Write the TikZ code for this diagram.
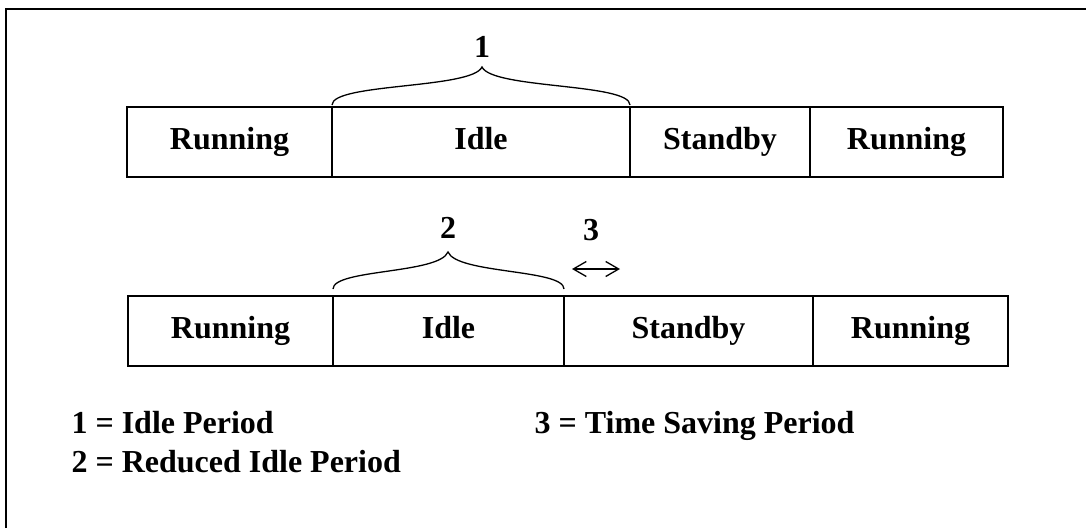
\documentclass[tikz,border=0pt]{standalone}
\usepackage{fontspec}
\setmainfont{Liberation Serif}
\usetikzlibrary{positioning,arrows.meta}
\tikzset{
  cell/.style={draw, line width=1.3pt, minimum height=70pt, inner sep=0pt, outer sep=0pt,
    text height=22pt, text depth=7pt},
  brace/.style={line width=1.3pt},
}
\begin{document}
\begin{tikzpicture}[x=1pt, y=-1pt, font=\fontsize{32}{38}\selectfont\bfseries]
  \useasboundingbox (0,0) rectangle (1086,528);
  \draw[line width=1.5pt] (6,528) -- (6,9) -- (1086,9);
  \node[cell, minimum width=205pt, anchor=north west] (a1) at (127,107) {Running};
  \node[cell, minimum width=298pt, right=0pt of a1] (a2) {Idle};
  \node[cell, minimum width=180pt, right=0pt of a2] (a3) {Standby};
  \node[cell, minimum width=193pt, right=0pt of a3] (a4) {Running};
  \node[cell, minimum width=205pt, anchor=north west] (b1) at (128,296) {Running};
  \node[cell, minimum width=231pt, right=0pt of b1] (b2) {Idle};
  \node[cell, minimum width=249pt, right=0pt of b2] (b3) {Standby};
  \node[cell, minimum width=195pt, right=0pt of b3] (b4) {Running};
  \coordinate (t1) at (482,67);
  \coordinate (t2) at (448,252);
  \coordinate (s1) at (572,269);
  \coordinate (s2) at (620,269);
  \node (n1) at (482,47) {1};
  \node (n2) at (448,228) {2};
  \node (n3) at (591,230) {3};
  \begin{scope}[brace]
    \draw ([yshift=2pt]a2.north west) .. controls +(0,-22) and +(-10,22) .. (t1)
      .. controls +(10,22) and +(0,-22) .. ([yshift=2pt]a2.north east);
    \draw ([yshift=7pt]b2.north west) .. controls +(0,-20) and +(-9,22) .. (t2)
      .. controls +(9,22) and +(0,-20) .. ([yshift=7pt]b2.north east);
    \draw[{Straight Barb[length=13pt,width=15pt]}-{Straight Barb[length=13pt,width=15pt]}] (s1) -- (s2);
  \end{scope}
  \node[anchor=base west] (l1) at (68,433) {1 = Idle Period};
  \node[anchor=base west] (l2) at (68,472) {2 = Reduced Idle Period};
  \node[anchor=base east] (l3) at (858,433) {3 = Time Saving Period};
\end{tikzpicture}
\end{document}
